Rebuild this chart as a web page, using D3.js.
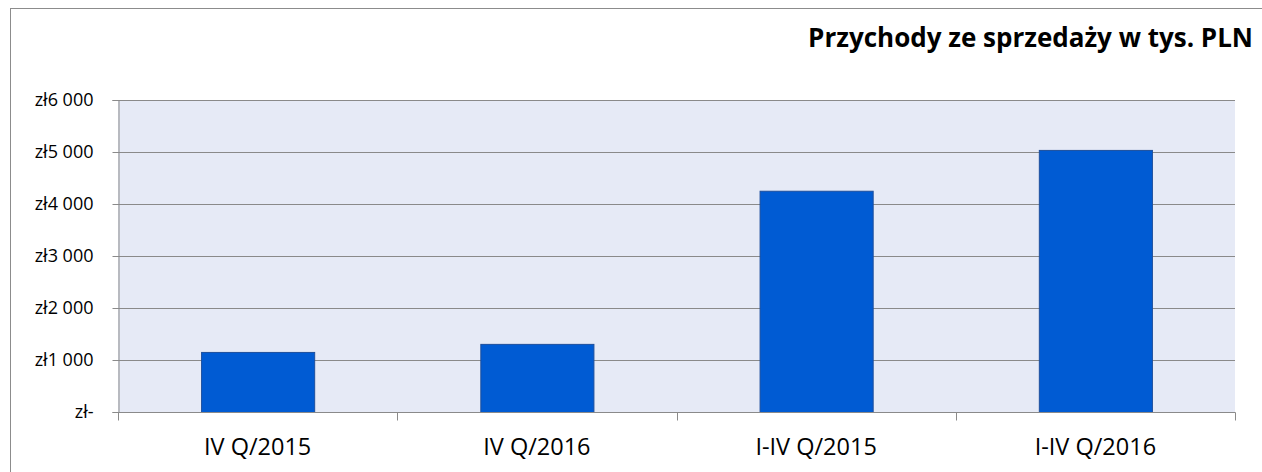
<!DOCTYPE html>
<html>
<head>
<meta charset="utf-8">
<script src="https://cdn.jsdelivr.net/npm/d3@7"></script>
<style>
body { margin: 0; background: #fff; }
svg text { font-family: "Open Sans", Lato, sans-serif; fill: #000; }
</style>
</head>
<body>
<div id="chart"></div>
<script>
var categories = ["IV Q/2015", "IV Q/2016", "I-IV Q/2015", "I-IV Q/2016"];
var values = [1155, 1310, 4255, 5040];
var yTicks = [0, 1000, 2000, 3000, 4000, 5000, 6000];
var title = "Przychody ze sprzedaży w tys. PLN";

var layout = { w: 1262, h: 472, left: 118, right: 1235, top: 100, bottom: 412 };

var svg = d3.select("#chart").append("svg")
	.attr("width", layout.w)
	.attr("height", layout.h);

// chart frame
svg.append("rect")
	.attr("x", 10.5).attr("y", 8.5)
	.attr("width", 1300).attr("height", 500)
	.style("fill", "none").style("stroke", "#8c8c8c").style("stroke-width", 1);

var xScale = d3.scaleBand().domain(categories).range([layout.left, layout.right]).paddingInner(0.595).paddingOuter(0.2975),
	xBand = d3.scaleBand().domain(categories).range([layout.left, layout.right]),
	yScale = d3.scaleLinear().domain([0, 6000]).range([layout.bottom, layout.top]);

// plot background
svg.append("rect")
	.attr("x", layout.left).attr("y", layout.top)
	.attr("width", layout.right - layout.left).attr("height", layout.bottom - layout.top)
	.style("fill", "#e6eaf6");

// gridlines
svg.append("g").selectAll("line")
	.data(yTicks.slice(1))
	.enter().append("line")
	.attr("x1", layout.left).attr("x2", layout.right)
	.attr("y1", function(d){ return Math.round(yScale(d)) + 0.5; })
	.attr("y2", function(d){ return Math.round(yScale(d)) + 0.5; })
	.style("stroke", "#8a8a8a").style("stroke-width", 1);

// bars
svg.append("g").selectAll("rect")
	.data(values)
	.enter().append("rect")
	.attr("x", function(d, i){ return xScale(categories[i]) + 0.5; })
	.attr("y", function(d){ return yScale(d) + 0.5; })
	.attr("width", xScale.bandwidth())
	.attr("height", function(d){ return yScale(0) - yScale(d); })
	.style("fill", "#005bd3")
	.style("stroke", "#1d4f9c")
	.style("stroke-width", 1);

// y axis
var yAxis = svg.append("g")
	.attr("transform", "translate(" + (layout.left + 0.5) + ",0)")
	.call(d3.axisLeft(yScale).tickValues(yTicks).tickSize(6).tickPadding(19)
		.tickFormat(function(d){ return d == 0 ? "zł-" : "zł" + (d / 1000) + " 000"; }));
yAxis.select(".domain").style("stroke", "#8a8a8a");
yAxis.selectAll("line").style("stroke", "#8a8a8a");
yAxis.selectAll("text").style("font-size", "18px").attr("font-family", null);

// x axis
var xAxis = svg.append("g")
	.attr("transform", "translate(0," + (layout.bottom + 0.5) + ")");
xAxis.append("line")
	.attr("x1", layout.left).attr("x2", layout.right + 0.5)
	.style("stroke", "#8a8a8a");
xAxis.selectAll("line.tick")
	.data(categories.concat(["end"]))
	.enter().append("line")
	.attr("class", "tick")
	.attr("x1", function(d, i){ return Math.round(layout.left + i * xBand.bandwidth()) + 0.5; })
	.attr("x2", function(d, i){ return Math.round(layout.left + i * xBand.bandwidth()) + 0.5; })
	.attr("y1", 0).attr("y2", 8)
	.style("stroke", "#8a8a8a");
xAxis.selectAll("text")
	.data(categories)
	.enter().append("text")
	.attr("x", function(d){ return xBand(d) + xBand.bandwidth() / 2; })
	.attr("y", 42.5)
	.attr("text-anchor", "middle")
	.style("font-size", "23.5px")
	.text(function(d){ return d; });

// title
svg.append("text")
	.attr("x", 1253).attr("y", 47)
	.attr("text-anchor", "end")
	.style("font-size", "26px")
	.style("font-weight", "bold")
	.text(title);
</script>
</body>
</html>
